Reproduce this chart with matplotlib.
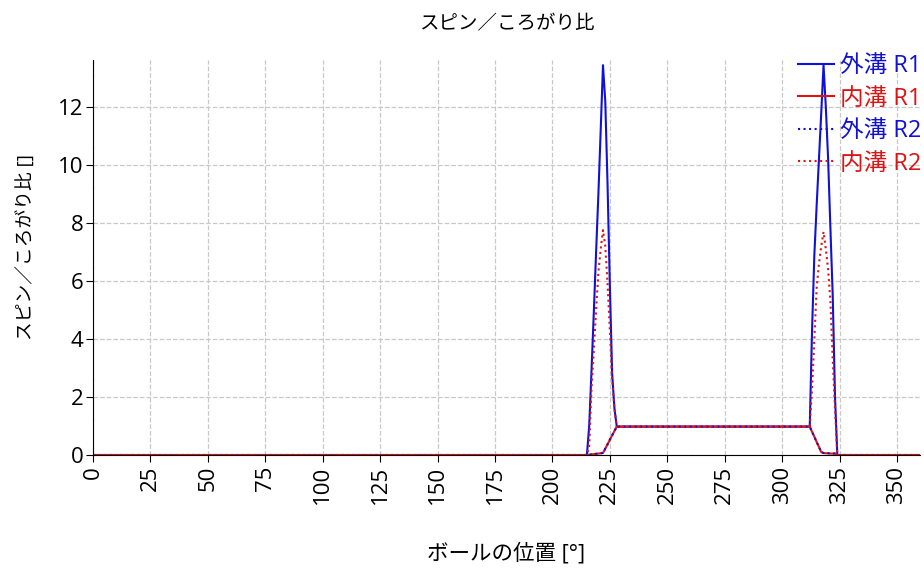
import numpy as np
import matplotlib
matplotlib.use("Agg")
import matplotlib.pyplot as plt

# latin glyphs from Open Sans, Japanese from Noto CJK
plt.rcParams['font.family'] = ['Open Sans', 'Noto Sans CJK JP', 'DejaVu Sans']

# ball position [deg] and spin/roll ratio for each groove and row
angle = [0, 215, 216, 217, 218, 219, 220, 221, 222, 223, 224, 225, 226, 227, 228,
         312, 313, 314, 315, 316, 317, 318, 319, 320, 321, 322, 323, 324, 360]

outer_r1 = [0, 0, 1.0, 2.9, 4.9, 7.0, 9.0, 11.2, 13.45, 12.2, 9.3, 5.8, 2.8, 1.6, 0.98,
            0.98, 4.3, 6.9, 8.6, 10.2, 11.8, 13.45, 12.0, 10.2, 7.8, 5.5, 2.0, 0, 0]
inner_r1 = [0, 0, 0.01, 0.02, 0.03, 0.04, 0.05, 0.06, 0.07, 0.22, 0.37, 0.53, 0.68, 0.83, 0.98,
            0.98, 0.8, 0.63, 0.45, 0.28, 0.1, 0.07, 0.06, 0.06, 0.05, 0.05, 0.05, 0, 0]
outer_r2 = [0, 0, 0.01, 0.02, 0.03, 0.04, 0.05, 0.06, 0.07, 0.22, 0.37, 0.53, 0.68, 0.83, 0.98,
            0.98, 0.8, 0.63, 0.45, 0.28, 0.1, 0.07, 0.06, 0.06, 0.05, 0.05, 0.05, 0, 0]
inner_r2 = [0, 0, 0.3, 2.3, 3.6, 5.0, 6.3, 7.1, 7.76, 7.2, 5.9, 4.3, 2.6, 1.6, 0.98,
            0.98, 2.3, 4.0, 5.76, 6.6, 7.2, 7.7, 7.1, 6.4, 5.3, 3.3, 1.6, 0, 0]

labels = ['外溝 R1', '内溝 R1', '外溝 R2', '内溝 R2']
blue = '#1010d8'
red = '#dc1414'

fig = plt.figure(figsize=(9.24, 5.74), dpi=100)
ax = fig.add_axes([0.1006, 0.2073, 0.8951, 0.6877])

ax.plot(angle, outer_r1, color=blue, lw=1.5, label=labels[0])
ax.plot(angle, inner_r1, color=red, lw=1.5, label=labels[1])
ax.plot(angle, outer_r2, color=blue, lw=1.5, ls=':', label=labels[2])
ax.plot(angle, inner_r2, color=red, lw=1.5, ls=':', label=labels[3])

ax.set_xlim(0, 360)
ax.set_ylim(0, 13.62)
ax.set_xticks(np.arange(0, 351, 25))
ax.set_yticks(np.arange(0, 13, 2))
ax.tick_params(axis='x', labelrotation=90, labelsize=16, length=5, pad=3)
ax.tick_params(axis='y', labelsize=16, length=5, pad=2)

ax.grid(True, ls='--', color='#c8c8c8', lw=0.9)
ax.set_axisbelow(True)
for side in ['top', 'right']:
    ax.spines[side].set_visible(False)

ax.set_title('スピン／ころがり比', fontsize=14, pad=22)
ax.set_xlabel('ボールの位置 [°]', fontsize=15.5)
ax.xaxis.set_label_coords(0.5, -0.222)
ax.set_ylabel('スピン／ころがり比 []', fontsize=13.5)
ax.yaxis.set_label_coords(-0.069, 0.527)

leg = ax.legend(loc='upper right', bbox_to_anchor=(921 / 924, 1 - 54 / 574),
                bbox_transform=fig.transFigure, frameon=False,
                fontsize=17, handlelength=1.55, handletextpad=0.22,
                labelspacing=0.36, borderpad=0, borderaxespad=0)
for txt, line in zip(leg.get_texts(), leg.get_lines()):
    txt.set_color(line.get_color())

fig.savefig('out.png', dpi=100)
